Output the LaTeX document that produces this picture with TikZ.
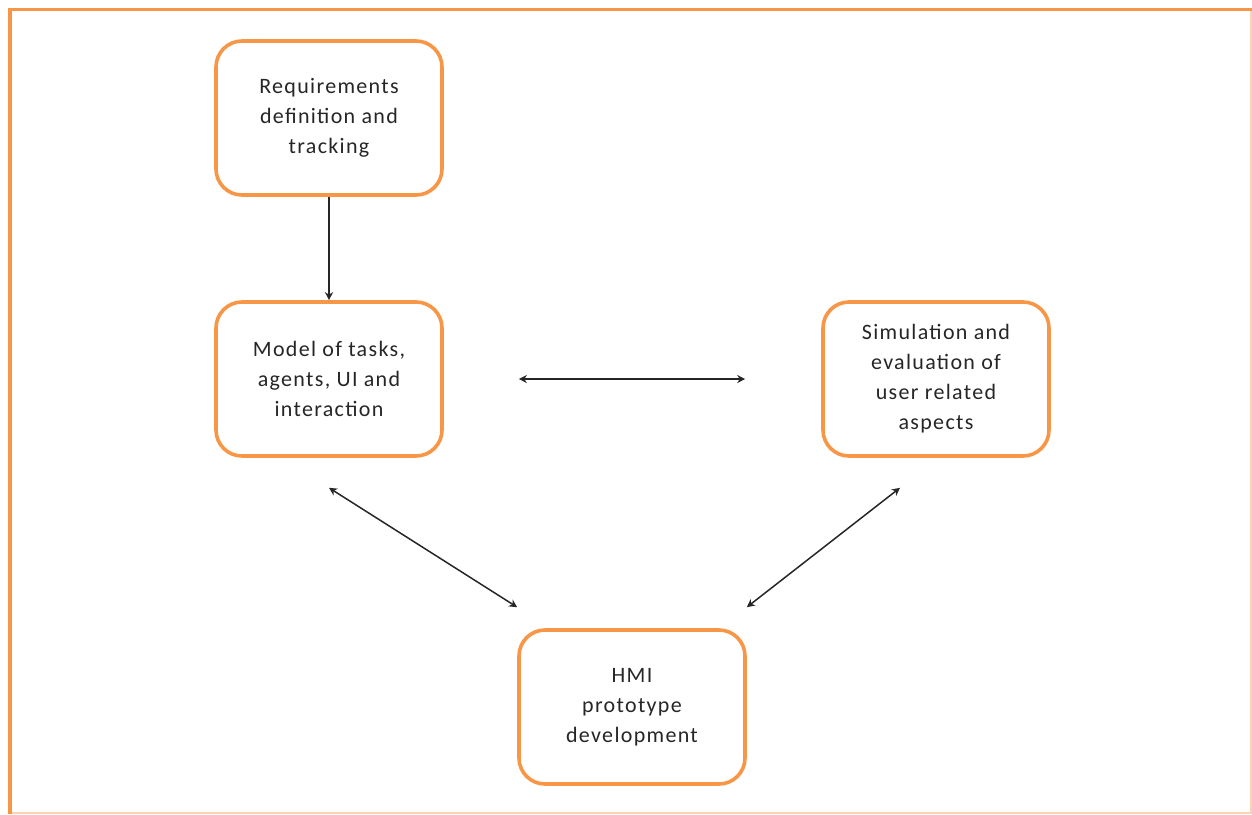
\documentclass[tikz,border=0pt]{standalone}
\usepackage{fontspec}
\setmainfont{Carlito}[LetterSpace=6]
\usetikzlibrary{arrows.meta}
\definecolor{accent}{HTML}{F79646}
\definecolor{accentlight}{HTML}{FAD3B5}
\definecolor{ink}{HTML}{262626}
\begin{document}
\begin{tikzpicture}[x=1pt,y=-1pt,
  stage/.style={draw=accent, line width=3.6pt, rounded corners=26pt,
    minimum width=226pt, minimum height=154pt, align=center,
    font=\fontsize{22pt}{30pt}\selectfont, text=ink, inner sep=0pt},
  link/.style={draw=ink, line width=1.5pt,
    -{Stealth[length=8pt,width=8pt,inset=2.5pt]}},
  dbl/.style={link, {Stealth[length=8pt,width=8pt,inset=2.5pt]}-{Stealth[length=8pt,width=8pt,inset=2.5pt]}}]
  \useasboundingbox (0,0) rectangle (1252,814);
  % outer frame
  \draw[accentlight, line width=1.5pt] (1251,9) -- (1251,813) -- (10,813);
  \draw[accent, line width=3.5pt] (10,814) -- (10,9.5) -- (1252,9.5);

  % process stages
  \node[stage] (req) at (329,118) {Requirements\\definition and\\tracking};
  \node[stage] (model) at (329,379) {Model of tasks,\\agents, UI and\\interaction};
  \node[stage] (sim) at (936,379) {Simulation and\\evaluation of\\user related\\aspects};
  \node[stage] (hmi) at (632,707) {HMI\\prototype\\development};

  % free ends of the diagonal links
  \coordinate (m1) at ([yshift=-30pt]model.south);
  \coordinate (h1) at ([yshift=21pt]hmi.north west);
  \coordinate (s1) at ([xshift=-36pt,yshift=-30pt]sim.south);
  \coordinate (h2) at ([yshift=21pt]hmi.north east);

  % connectors
  \draw[link] (req) -- (model);
  \draw[dbl, shorten <=75pt, shorten >=76pt] (model) -- (sim);
  \draw[dbl] (m1) -- (h1);
  \draw[dbl] (s1) -- (h2);
\end{tikzpicture}
\end{document}
